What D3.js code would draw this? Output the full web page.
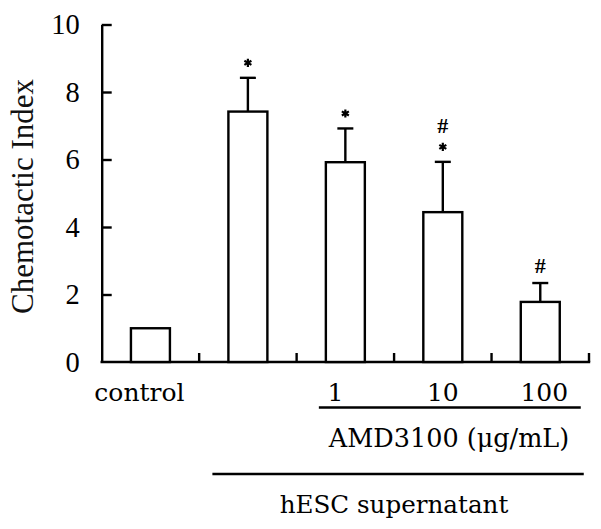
<!DOCTYPE html>
<html>
<head>
<meta charset="utf-8">
<script src="https://cdn.jsdelivr.net/npm/d3@7"></script>
<style>
  html, body { margin: 0; padding: 0; background: #fff; }
  svg { display: block; }
</style>
</head>
<body>
<svg id="chart" width="601" height="529"></svg>
<script>
// ---- data ----
const categories = ["control", "hESC", "1", "10", "100"];
const tickLabels = ["control", "", "1", "10", "100"];
const values = [1.0, 7.42, 5.92, 4.44, 1.78];
const errors = [0, 1.0, 1.0, 1.49, 0.56];
const starMarks = [false, true, true, true, false];
const hashMarks = [false, false, false, true, true];
const yTicks = [0, 2, 4, 6, 8, 10];
const yLabel = "Chemotactic Index";
const doseTitle = "AMD3100 (\u03bcg/mL)";
const groupTitle = "hESC supernatant";

// ---- layout ----
const svg = d3.select("#chart");
const mLeft = 101.7, mRight = 589, mTop = 24.5, mBottom = 362;
const lw = 2.4;

const x = d3.scaleBand().domain(categories).range([mLeft, mRight])
  .paddingInner(0.6).paddingOuter(0.3);
const y = d3.scaleLinear().domain([0, 10]).range([mBottom, mTop]);
const step = x.step();
const bw = x.bandwidth();

// y axis
const yAxis = d3.axisLeft(y).tickValues(yTicks).tickSize(-10).tickSizeOuter(0).tickPadding(22);
const gy = svg.append("g").attr("transform", `translate(${mLeft},0)`).call(yAxis);
gy.select(".domain").attr("stroke", "#000").attr("stroke-width", lw);
gy.selectAll(".tick line").attr("stroke", "#000").attr("stroke-width", lw)
  .filter(d => d === 0).remove();
gy.selectAll(".tick text").attr("font-family", "'Liberation Serif', serif")
  .attr("font-size", 28.5).attr("fill", "#000");

// y label
svg.append("text")
  .attr("transform", `translate(33,196.5) rotate(-90)`)
  .attr("text-anchor", "middle")
  .attr("font-family", "'Liberation Serif', serif")
  .attr("font-size", 31)
  .attr("fill", "#111")
  .text(yLabel);

// x axis line and boundary ticks
const boundaries = categories.map(c => x(c) - step * 0.3).concat([mRight]);
svg.append("line").attr("x1", mLeft - lw / 2).attr("x2", mRight + lw / 2)
  .attr("y1", mBottom).attr("y2", mBottom)
  .attr("stroke", "#000").attr("stroke-width", lw);
svg.selectAll(".xtick").data(boundaries.slice(1)).join("line")
  .attr("x1", d => d).attr("x2", d => d)
  .attr("y1", mBottom).attr("y2", mBottom - 9)
  .attr("stroke", "#000").attr("stroke-width", lw);

// bars
const data = categories.map((c, i) => ({c, v: values[i], e: errors[i], star: starMarks[i], hash: hashMarks[i], label: tickLabels[i]}));

// error bars
const eb = data.filter(d => d.e > 0);
svg.selectAll(".errv").data(eb).join("line")
  .attr("x1", d => x(d.c) + bw / 2).attr("x2", d => x(d.c) + bw / 2)
  .attr("y1", d => y(d.v)).attr("y2", d => y(d.v + d.e))
  .attr("stroke", "#000").attr("stroke-width", lw);
svg.selectAll(".errc").data(eb).join("line")
  .attr("x1", d => x(d.c) + bw / 2 - 8).attr("x2", d => x(d.c) + bw / 2 + 8)
  .attr("y1", d => y(d.v + d.e)).attr("y2", d => y(d.v + d.e))
  .attr("stroke", "#000").attr("stroke-width", lw);

svg.selectAll(".bar").data(data).join("rect")
  .attr("x", d => x(d.c)).attr("width", bw)
  .attr("y", d => y(d.v)).attr("height", d => y(0) - y(d.v))
  .attr("fill", "#fff").attr("stroke", "#000").attr("stroke-width", lw);

// significance marks
const star = d3.symbol().type(d3.symbolAsterisk).size(46);
svg.selectAll(".star").data(data.filter(d => d.star)).join("path")
  .attr("d", star)
  .attr("transform", d => `translate(${x(d.c) + bw / 2},${y(d.v + d.e) - 15})`)
  .attr("fill", "none").attr("stroke", "#000").attr("stroke-width", 2.2);
svg.selectAll(".hash").data(data.filter(d => d.hash)).join("text")
  .attr("x", d => x(d.c) + bw / 2)
  .attr("y", d => y(d.v + d.e) - (d.star ? 36 : 17.5) + 7.5)
  .attr("text-anchor", "middle")
  .attr("font-family", "'Liberation Serif', serif")
  .attr("font-weight", "bold")
  .attr("font-size", 22)
  .attr("fill", "#000")
  .text("#");

// category labels
const labelFont = "'DejaVu Serif', serif";
const dx = {"control": -11, "1": -10, "10": 0, "100": 4};
svg.selectAll(".xlab").data(data.filter(d => d.label)).join("text")
  .attr("x", d => x(d.c) + bw / 2 + (dx[d.label] || 0))
  .attr("y", 400.5)
  .attr("text-anchor", "middle")
  .attr("font-family", labelFont)
  .attr("font-size", 25)
  .attr("fill", "#000")
  .text(d => d.label);

// dose bracket
svg.append("line")
  .attr("x1", x("1") - 7).attr("x2", x("100") + bw + 21)
  .attr("y1", 407.5).attr("y2", 407.5)
  .attr("stroke", "#000").attr("stroke-width", 2.6);
svg.append("text")
  .attr("x", 449).attr("y", 446.5)
  .attr("text-anchor", "middle")
  .attr("font-family", labelFont)
  .attr("font-size", 25.5)
  .attr("fill", "#000")
  .text(doseTitle);

// group bracket
svg.append("line")
  .attr("x1", x("hESC") - 16).attr("x2", x("100") + bw + 24)
  .attr("y1", 474).attr("y2", 474)
  .attr("stroke", "#000").attr("stroke-width", 2.6);
svg.append("text")
  .attr("x", 394).attr("y", 513)
  .attr("text-anchor", "middle")
  .attr("font-family", labelFont)
  .attr("font-size", 24.6)
  .attr("fill", "#000")
  .text(groupTitle);
</script>
</body>
</html>
